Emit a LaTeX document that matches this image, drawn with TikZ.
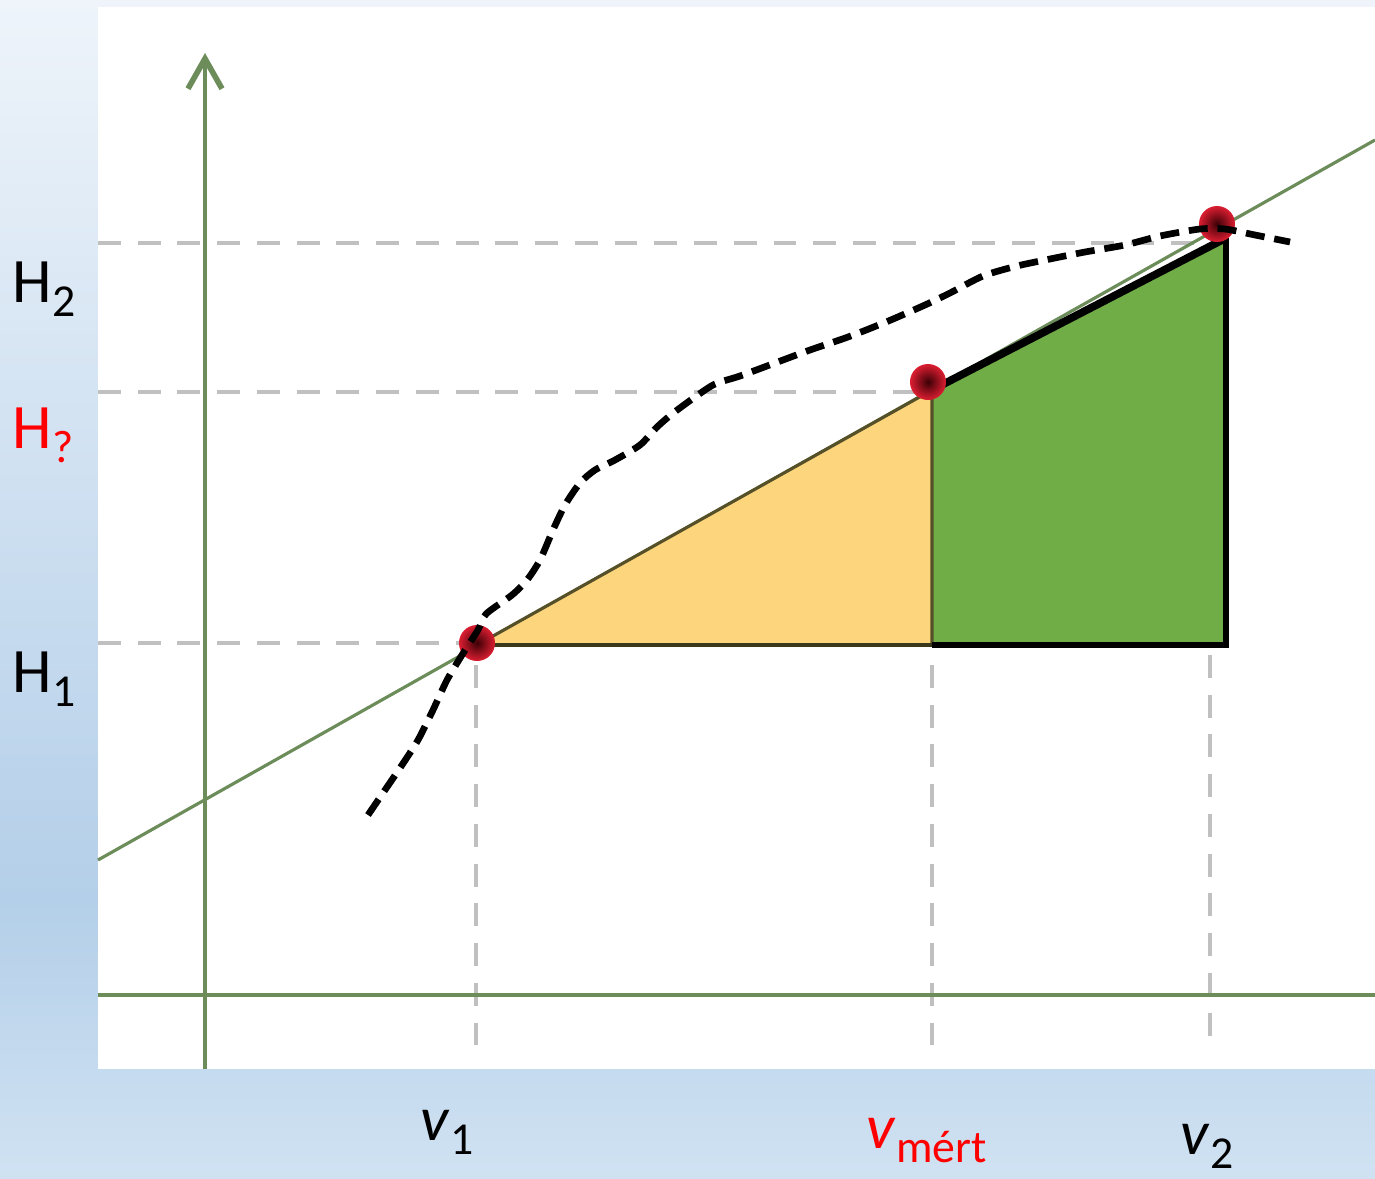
\documentclass[tikz,border=0pt]{standalone}
\usepackage{fontspec}
\setmainfont{Carlito}
\usetikzlibrary{arrows.meta,positioning}

\definecolor{bgtop}{RGB}{238,244,250}
\definecolor{bgmid}{RGB}{180,207,233}
\definecolor{bgbot}{RGB}{208,226,242}
\definecolor{axisgreen}{RGB}{108,140,90}
\definecolor{guidegray}{RGB}{192,192,192}
\definecolor{areayellow}{RGB}{252,213,125}
\definecolor{areagreen}{RGB}{112,173,71}
\definecolor{edgeolive}{RGB}{85,80,40}
\definecolor{dotdark}{RGB}{60,0,5}
\definecolor{dotred}{RGB}{220,30,50}

\newcommand{\subtxt}[1]{\raisebox{-4pt}{\fontsize{13}{14}\selectfont #1}}

\begin{document}
\begin{tikzpicture}[
    x=0.01cm, y=-0.01cm,
    axis/.style={draw=axisgreen, line width=1.2pt},
    diag/.style={draw=axisgreen, line width=0.9pt},
    guide/.style={draw=guidegray, line width=1.1pt, dash pattern=on 6.5pt off 4.8pt},
    curve/.style={draw=black, line width=1.9pt, dash pattern=on 5.4pt off 2.8pt},
    dot/.style={circle, inner sep=0pt, minimum size=0.36cm, inner color=dotdark, outer color=dotred},
    axlabel/.style={font=\fontsize{18}{20}\selectfont, inner sep=0pt, anchor=base west}
]
    \useasboundingbox (0,0) rectangle (1375,1178);

    % Background
    \shade[top color=bgtop, bottom color=bgmid] (0,0) rectangle (1375,901);
    \shade[top color=bgmid, bottom color=bgbot] (0,900) rectangle (1375,1178);
    \fill[white] (98,7) rectangle (1375,1069);

    % Guide lines
    \draw[guide] (98,243) -- (1200,243);
    \draw[guide] (98,392) -- (915,392);
    \draw[guide] (98,643) -- (462,643);
    \draw[guide] (476,665) -- (476,1045);
    \draw[guide] (932,665) -- (932,1045);
    \draw[guide] (1210,655) -- (1210,1045);

    % Axes
    \draw[axis] (98,995) -- (1375,995);
    \draw[axis, -{Straight Barb[length=0.3cm, width=0.34cm, line width=1.6pt]}] (205,1069) -- (205,53);

    % Straight line
    \coordinate (lA) at (98,860);
    \coordinate (lB) at (1375,140);
    \draw[diag] (lA) -- (lB);

    % Areas
    \coordinate (a1) at (477,645);
    \coordinate (am) at (932,390);
    \coordinate (ab) at (932,645);
    \coordinate (a2) at (1226,238);
    \coordinate (a3) at (1226,645);
    \fill[areayellow] (a1) -- (am) -- (ab) -- cycle;
    \fill[areagreen] (am) -- (a2) -- (a3) -- (ab) -- cycle;
    \draw[edgeolive, line width=0.9pt] (a1) -- (am) -- (ab);
    \draw[edgeolive!70!black, line width=1.3pt] (a1) -- (ab);
    \draw[black, line width=2.2pt] (am) -- (a2);
    \draw[black, line width=1.7pt] (a2) -- (a3) -- (ab);

    % Points
    \node[dot] (d1) at (477,643) {};
    \node[dot] (dm) at (928,382) {};
    \node[dot] (d2) at (1217,224) {};

    % Measured curve
    \draw[curve] plot[smooth, tension=0.45] coordinates {
        (368,815) (385,790) (402,765) (418,740) (433,710) (447,680)
        (462,655) (478,630) (486,614) (512,595) (527,580) (540,560)
        (553,530) (565,505) (580,483) (595,470) (615,460) (640,445)
        (656,428) (672,414) (695,397) (715,384) (740,376) (775,363)
        (810,350) (848,337) (886,322) (925,305) (950,293) (983,276)
        (1017,266) (1050,259) (1085,252) (1125,245) (1160,236) (1200,229)
        (1225,229) (1255,235) (1290,242)};

    % Labels
    \node[axlabel] (h2) at (12,302) {H\subtxt{2}};
    \node[axlabel, text=red] (hq) at (12,448) {H\subtxt{?}};
    \node[axlabel] (h1) at (12,692) {H\subtxt{1}};
    \node[axlabel] (v1) at (420,1140) {\textit{v}\subtxt{1}};
    \node[axlabel, text=red] (vm) at (866,1148) {\textit{v}\subtxt{mért}};
    \node[axlabel] (v2) at (1180,1154) {\textit{v}\subtxt{2}};
\end{tikzpicture}
\end{document}
